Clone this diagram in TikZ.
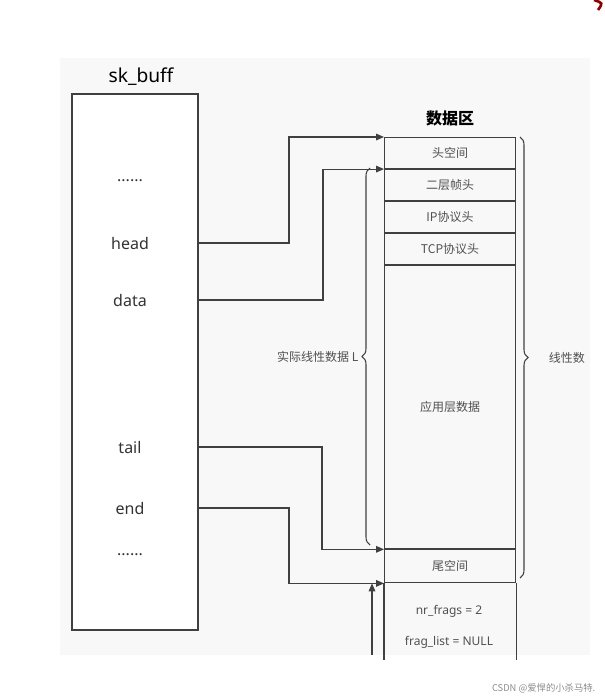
\documentclass[tikz,border=0pt]{standalone}
\usepackage{fontspec}
\setmainfont{Noto Sans}
\newfontfamily\cjk{Noto Sans CJK SC}
\usetikzlibrary{decorations.pathreplacing,arrows.meta}
\definecolor{txtgray}{RGB}{80,80,80}
\definecolor{panelgray}{RGB}{248,248,248}
\tikzset{
  cell/.style={draw=black!75,thick,minimum width=98.25pt,inner sep=0pt,font=\cjk\small,text=txtgray},
  field/.style={font=\large,text=black!80},
  ptr/.style={-{Triangle[length=6pt,width=5pt]},thick,black!75},
  brc/.style={decorate,decoration={brace,amplitude=6pt},thick,black!75}
}
\begin{document}
\begin{tikzpicture}[x=0.75pt,y=-0.75pt]
   \useasboundingbox (0,0) rectangle (605,699);
   \fill[panelgray] (60,58) rectangle (590,655);
   \draw[line width=2pt,red!55!black] (594,0) .. controls (603,3) .. (598,10);
  %
   \node[font=\bfseries\Large] (skt) at (141,77) {sk\_buff};
   \draw[thick,black!75,fill=white] (72,94) rectangle (198,630);
   \node[field] (d1) at (130,181) {\textbf{......}};
   \node[field] (head) at (130,243) {head};
   \node[field] (data) at (130,300) {data};
   \node[field] (tail) at (130,447) {tail};
   \node[field] (end) at (130,508) {end};
   \node[field] (d2) at (130,555) {\textbf{......}};
  %
   \node[font=\cjk\bfseries\large] (dt) at (450,118) {数据区};
   \node[cell,minimum height=23.25pt,anchor=north west] (hr) at (384,137) {头空间};
   \node[cell,minimum height=23.25pt,anchor=north] (l2) at (hr.south) {二层帧头};
   \node[cell,minimum height=23.25pt,anchor=north] (ip) at (l2.south) {IP协议头};
   \node[cell,minimum height=23.25pt,anchor=north] (tcp) at (ip.south) {TCP协议头};
   \node[cell,minimum height=212.25pt,anchor=north] (app) at (tcp.south) {应用层数据};
   \node[cell,minimum height=24.75pt,anchor=north] (tr) at (app.south) {尾空间};
   \draw[thick,black!75] (tr.south west) -- ++(0,77) (tr.south east) -- ++(0,77);
   \node[font=\small,text=txtgray] (nrf) at (449,611) {nr\_frags = 2};
   \node[font=\small,text=txtgray] (fgl) at (449,642) {frag\_list = NULL};
  %
   \coordinate (bot) at (372,655);
   \draw[ptr] (head.east -| 198,0) -- (289,243) |- (hr.north west);
   \draw[ptr] (data.east -| 198,0) -- (323,300) |- (l2.north west);
   \draw[ptr] (tail.east -| 198,0) -- (322,447) |- (tr.north west);
   \draw[ptr] (end.east -| 198,0) -- (289,508) |- (tr.south west);
   \draw[ptr] (bot) -- (bot |- tr.south);
  %
   \draw[brc] (370,545) -- (370,168) node[midway,left=5pt,font=\cjk\small,text=txtgray] (lenl) {实际线性数据 L};
   \draw[brc] (520,137) -- (520,578) node[midway,right=18pt,font=\cjk\small,text=txtgray] (lin) {线性数};
   \node[font=\cjk\scriptsize,text=black!45,anchor=east] (wm) at (600,688) {CSDN @爱悍的小杀马特.};
\end{tikzpicture}
\end{document}
